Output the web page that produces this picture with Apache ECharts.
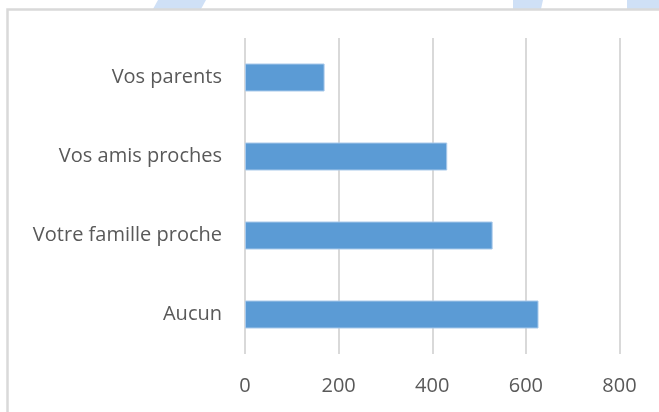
<!DOCTYPE html>
<html>
<head>
<meta charset="utf-8">
<script src="https://cdn.jsdelivr.net/npm/echarts@6/dist/echarts.min.js"></script>
<style>
html,body{margin:0;padding:0;background:#fff;}
#chart{width:659px;height:412px;}
</style>
</head>
<body>
<div id="chart"></div>
<script>
const categories = ['Aucun', 'Votre famille proche', 'Vos amis proches', 'Vos parents'];
const values = [627, 529, 432, 170];
const xTicks = [0, 200, 400, 600, 800];

const chart = echarts.init(document.getElementById('chart'), null, {renderer: 'canvas'});
const font = '"Open Sans", Lato, sans-serif';
chart.setOption({
  animation: false,
  backgroundColor: '#ffffff',
  graphic: [
    {type: 'polygon', shape: {points: [[158,0],[206,0],[201,9],[153,9]]}, style: {fill: '#cfe0f6'}, z: 0},
    {type: 'polygon', shape: {points: [[513,0],[543,0],[541,9],[513,9]]}, style: {fill: '#cfe0f6'}, z: 0},
    {type: 'polygon', shape: {points: [[627,0],[659,0],[659,9],[627,9]]}, style: {fill: '#cfe0f6'}, z: 0},
    {type: 'rect', shape: {x: 7.5, y: 9.5, width: 800, height: 600}, style: {fill: 'none', stroke: '#d9d9d9', lineWidth: 2.5}, z: 1}
  ],
  grid: {left: 245, right: 39.5, top: 38, bottom: 58, containLabel: false},
  xAxis: {
    type: 'value',
    min: xTicks[0],
    max: xTicks[xTicks.length - 1],
    interval: 200,
    axisLine: {show: false},
    axisTick: {show: false},
    splitLine: {show: true, lineStyle: {color: '#d9d9d9', width: 2}},
    axisLabel: {color: '#595959', fontFamily: font, fontSize: 20, margin: 22}
  },
  yAxis: {
    type: 'category',
    data: categories,
    axisLine: {show: false},
    axisTick: {show: false},
    axisLabel: {color: '#595959', fontFamily: font, fontSize: 20, margin: 23}
  },
  series: [{
    type: 'bar',
    data: values,
    barWidth: 28,
    itemStyle: {color: '#5b9bd5', borderColor: '#a9c9ea', borderWidth: 1}
  }]
});
</script>
</body>
</html>
